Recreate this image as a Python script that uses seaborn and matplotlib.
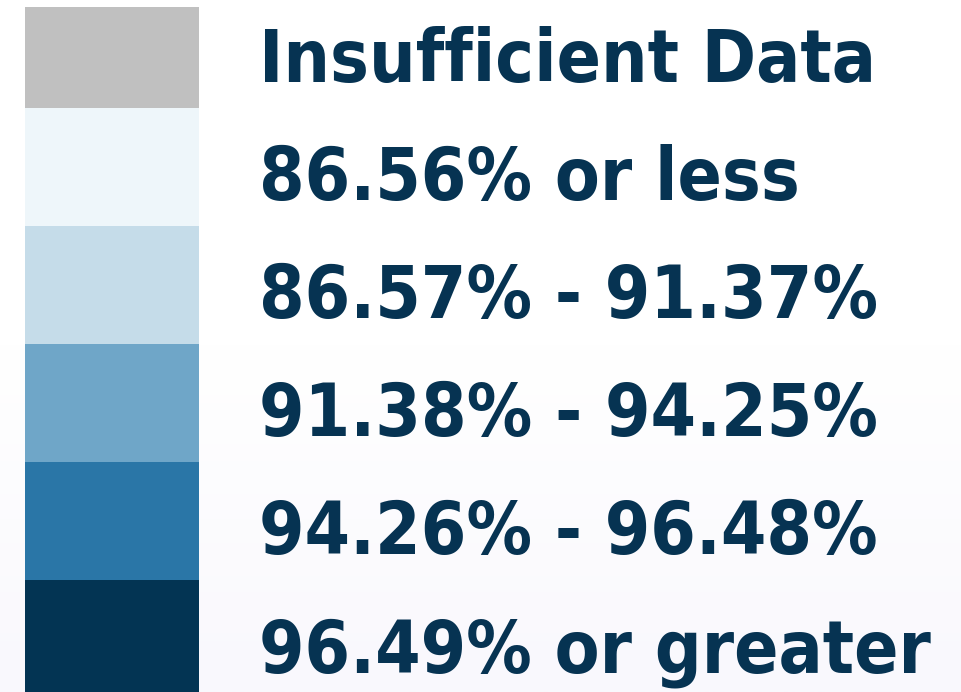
import numpy as np
import pandas as pd
import matplotlib
matplotlib.use("Agg")
import matplotlib.pyplot as plt
import seaborn as sns
from matplotlib.colors import LinearSegmentedColormap

# ---- data ----
categories = ["Insufficient Data", "86.56% or less", "86.57% - 91.37%",
              "91.38% - 94.25%", "94.26% - 96.48%", "96.49% or greater"]
swatch_values = [1, 1, 1, 1, 1, 1]
swatch_colors = ["#C0C0C0", "#EEF6FA", "#C5DCE9", "#6FA6C8", "#2A76A7", "#033453"]
text_color = "#063352"

sns.set_theme(style="white")

W, H = 961, 692
fig = plt.figure(figsize=(W / 100, H / 100), dpi=100)
fig.patch.set_facecolor("white")

# subtle background gradient (white -> faint lavender)
bg = fig.add_axes([0, 0, 1, 1], zorder=0)
grad = np.linspace(0, 1, 256).reshape(-1, 1)
cmap = LinearSegmentedColormap.from_list("bg", ["#FFFFFF", "#FFFFFF", "#F9F8FD"])
bg.imshow(grad, aspect="auto", cmap=cmap, extent=[0, 1, 0, 1], origin="upper")
bg.set_axis_off()

ax = fig.add_axes([0, 0, 1, 685 / 692], zorder=1)
ax.patch.set_alpha(0)

df = pd.DataFrame({"category": categories, "value": swatch_values})
sns.barplot(data=df, x="value", y="category", hue="category",
            palette=swatch_colors, saturation=1, width=1.0, orient="h",
            legend=False, linewidth=0, ax=ax)

ax.set_xlim(-25 / 174, 936 / 174)
ax.set_ylim(5.449, -0.356)
ax.set_axis_off()

for i, label in enumerate(categories):
    ax.text(234 / 174, i + 0.28, label, ha="left", va="baseline",
            color=text_color, fontsize=52.5, fontweight="bold",
            family=["DejaVu Sans"], fontstretch="condensed")

fig.savefig("out.png", dpi=100)
